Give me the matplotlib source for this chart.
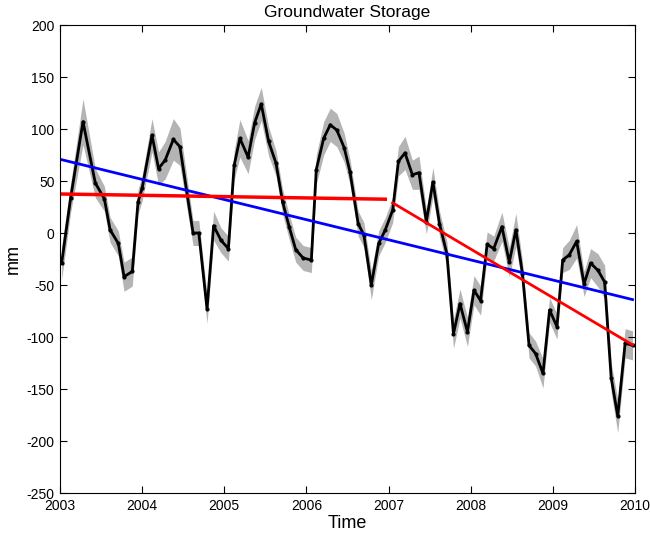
import numpy as np
import matplotlib
matplotlib.use('Agg')
import matplotlib.pyplot as plt

plt.rcParams['font.family'] = ['Liberation Sans', 'DejaVu Sans']
plt.rcParams['axes.unicode_minus'] = False

# groundwater storage anomaly (mm), monthly
t = [2003.02, 2003.13, 2003.28, 2003.43, 2003.54, 2003.61, 2003.71, 2003.78, 2003.88,
     2003.95, 2004.00, 2004.12, 2004.20, 2004.28, 2004.38, 2004.46, 2004.62, 2004.69,
     2004.79, 2004.87, 2004.96, 2005.05, 2005.12, 2005.19, 2005.29, 2005.37, 2005.45,
     2005.54, 2005.63, 2005.71, 2005.79, 2005.87, 2005.96, 2006.06, 2006.12, 2006.21,
     2006.29, 2006.37, 2006.46, 2006.53, 2006.63, 2006.70, 2006.79, 2006.88, 2006.96,
     2007.05, 2007.12, 2007.20, 2007.29, 2007.37, 2007.46, 2007.54, 2007.62, 2007.71,
     2007.79, 2007.87, 2007.96, 2008.04, 2008.12, 2008.20, 2008.28, 2008.38, 2008.47,
     2008.55, 2008.63, 2008.71, 2008.79, 2008.88, 2008.96, 2009.05, 2009.12, 2009.20,
     2009.29, 2009.38, 2009.46, 2009.55, 2009.63, 2009.71, 2009.79, 2009.88, 2009.97]
gws = [-29, 34, 107, 48, 33, 3, -10, -42, -37,
       30, 43, 94, 62, 70, 90, 83, 0, 0,
       -73, 7, -7, -15, 65, 91, 73, 106, 124,
       88, 67, 30, 6, -16, -24, -26, 61, 91,
       104, 99, 82, 59, 9, -2, -50, -10, 3,
       22, 69, 77, 56, 58, 11, 49, 9, -20,
       -97, -68, -95, -55, -65, -11, -15, 6, -28,
       3, -39, -108, -116, -135, -74, -90, -26, -21,
       -8, -49, -29, -36, -47, -139, -176, -106, -108]
err = [16, 14, 22, 14, 12, 12, 12, 14, 14,
       12, 12, 16, 16, 18, 20, 18, 12, 12,
       14, 14, 12, 12, 14, 18, 16, 16, 16,
       14, 12, 12, 12, 12, 12, 12, 14, 16,
       16, 16, 14, 12, 12, 12, 14, 12, 12,
       12, 14, 16, 14, 16, 12, 14, 12, 12,
       14, 14, 14, 14, 14, 12, 12, 14, 14,
       16, 12, 12, 12, 14, 12, 12, 12, 14,
       16, 12, 14, 16, 16, 14, 16, 14, 14]

# linear trends: whole period, 2003-2006, 2007-2009
trend_all_t = [2003.02, 2009.97]
trend_all_v = [70.5, -64]
trend_early_t = [2003.02, 2006.96]
trend_early_v = [37.5, 32.5]
trend_late_t = [2007.05, 2009.97]
trend_late_v = [29, -107.5]

t = np.array(t)
gws = np.array(gws)
err = np.array(err)

fig = plt.figure(figsize=(6.5, 5.4), dpi=100)
ax = fig.add_axes([0.0923, 0.087, 0.8846, 0.8667])

ax.fill_between(t, gws - err, gws + err, color='#b4b4b4', lw=0)
ax.plot(t, gws, 'k.-', lw=2, ms=4)
ax.plot(trend_all_t, trend_all_v, color='#0000ff', lw=2)
ax.plot(trend_early_t, trend_early_v, color='#ff0000', lw=2.5)
ax.plot(trend_late_t, trend_late_v, color='#ff0000', lw=2)

ax.set_xlim(2003, 2010)
ax.set_ylim(-250, 200)
ax.set_xticks(range(2003, 2011))
ax.set_yticks(range(-250, 201, 50))
ax.tick_params(direction='in', top=True, right=True, labelsize=10, length=5, pad=4)
ax.set_xlabel('Time', fontsize=13, labelpad=2)
ax.set_ylabel('mm', fontsize=13, labelpad=3)
ax.set_title('Groundwater Storage', fontsize=12.5, pad=6)

fig.savefig('out.png', dpi=100)
